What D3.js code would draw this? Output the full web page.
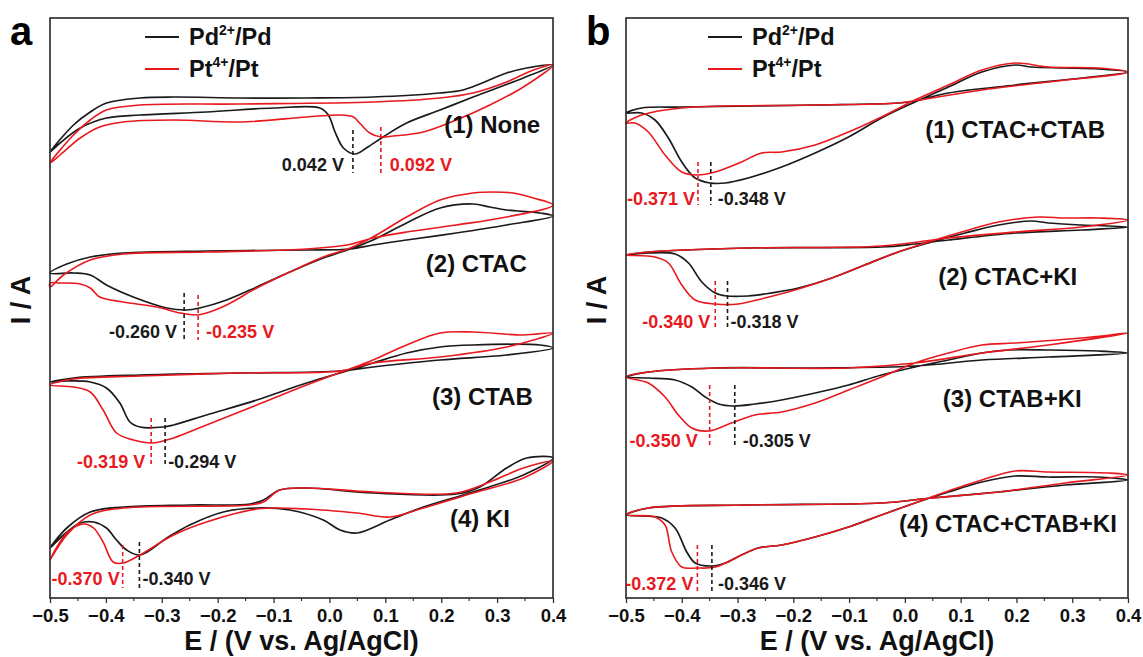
<!DOCTYPE html>
<html><head><meta charset="utf-8">
<script src="https://cdn.jsdelivr.net/npm/d3@7"></script>
<style>
html,body{margin:0;padding:0;background:#fff;}
text{font-family:"Liberation Sans",Arial,Helvetica,sans-serif;font-weight:bold;}
</style></head>
<body><svg id="chart" width="1143" height="657"></svg>
<script>
// ---------- DATA (E in V vs Ag/AgCl, I in arbitrary stacked current units) ----------
const xTicks = [-0.5,-0.4,-0.3,-0.2,-0.1,0.0,0.1,0.2,0.3,0.4];
const seriesNames = ["Pd2+/Pd","Pt4+/Pt"];
const labelsA = ["(1) None","(2) CTAC","(3) CTAB","(4) KI"];
const labelsB = ["(1) CTAC+CTAB","(2) CTAC+KI","(3) CTAB+KI","(4) CTAC+CTAB+KI"];
const peaksA_pd = [0.042,-0.260,-0.294,-0.340];
const peaksA_pt = [0.092,-0.235,-0.319,-0.370];
const peaksB_pd = [-0.348,-0.318,-0.305,-0.346];
const peaksB_pt = [-0.371,-0.340,-0.350,-0.372];

const a1_pd = [[-0.5,446],[-0.458,473],[-0.428,486],[-0.399,495],[-0.339,500],[-0.279,501],[-0.160,500],[-0.041,500],[0.078,501],[0.198,505],[0.239,508],[0.269,514],[0.317,525],[0.353,530],[0.4,533],
 [0.347,520],[0.257,501],[0.198,488],[0.138,475],[0.096,461],[0.066,450],[0.046,444],[0.025,450],[0.010,466],[-0.002,483],[-0.017,490],[-0.1,490],[-0.220,486],[-0.339,483],[-0.399,480],[-0.446,470],[-0.482,455]];
const a1_pt = [[-0.5,435],[-0.458,463],[-0.428,478],[-0.399,488],[-0.339,493],[-0.160,494],[0.078,496],[0.198,500],[0.257,505],[0.317,516],[0.365,528],[0.4,533],
 [0.347,511],[0.287,493],[0.227,478],[0.168,466],[0.114,462],[0.093,461],[0.072,465],[0.054,475],[0.043,481],[0.019,483],[-0.041,481],[-0.160,476],[-0.279,478],[-0.369,476],[-0.411,471],[-0.446,460],[-0.482,443]];
const a2_pd = [[-0.5,325],[-0.470,334],[-0.428,341],[-0.369,345],[-0.220,347],[-0.041,348],[0.037,349],[0.078,353],[0.138,358],[0.227,365],[0.317,373],[0.4,382],
 [0.377,385],[0.317,388],[0.287,391],[0.257,394],[0.198,390],[0.138,375],[0.078,358],[0.037,349],[-0.011,340],[-0.071,326],[-0.130,311],[-0.184,298],[-0.232,290],[-0.256,288],[-0.291,290],[-0.351,301],[-0.399,313],[-0.428,323],[-0.458,325]];
const a2_pt = [[-0.5,311],[-0.476,323],[-0.428,338],[-0.369,344],[-0.220,346],[-0.041,349],[0.031,353],[0.078,360],[0.138,366],[0.227,373],[0.317,381],[0.4,393],
 [0.365,400],[0.329,405],[0.293,406],[0.257,405],[0.198,398],[0.138,381],[0.078,361],[0.037,350],[-0.011,341],[-0.071,326],[-0.130,310],[-0.184,293],[-0.220,285],[-0.238,283],[-0.267,285],[-0.309,291],[-0.369,296],[-0.411,301],[-0.428,310],[-0.446,314],[-0.482,315],[-0.5,315]];
const a3_pd = [[-0.5,216],[-0.458,220],[-0.339,223],[-0.160,225],[0.019,227],[0.078,231],[0.198,238],[0.317,243],[0.4,250],
 [0.377,253],[0.257,253],[0.198,251],[0.138,245],[0.078,235],[0.031,227],[-0.041,215],[-0.130,198],[-0.220,183],[-0.279,173],[-0.297,171],[-0.339,171],[-0.357,176],[-0.375,195],[-0.399,210],[-0.428,216],[-0.470,217]];
const a3_pt = [[-0.5,213],[-0.458,219],[-0.339,222],[-0.160,225],[0.019,227],[0.078,235],[0.198,241],[0.317,251],[0.4,265],
 [0.347,263],[0.257,266],[0.198,265],[0.138,253],[0.078,238],[0.031,228],[-0.041,213],[-0.130,193],[-0.220,173],[-0.279,160],[-0.315,155],[-0.351,158],[-0.381,165],[-0.405,188],[-0.428,206],[-0.458,211]];
const a4_pd = [[-0.5,50],[-0.470,70],[-0.428,86],[-0.369,91],[-0.250,93],[-0.142,94],[-0.118,98],[-0.089,108],[-0.041,110],[0.078,105],[0.227,104],[0.269,111],[0.317,130],[0.353,140],[0.4,140],
 [0.347,123],[0.257,106],[0.168,91],[0.108,78],[0.049,65],[0.019,68],[-0.011,78],[-0.071,88],[-0.130,90],[-0.190,86],[-0.250,73],[-0.291,60],[-0.339,43],[-0.363,48],[-0.381,58],[-0.399,70],[-0.422,76],[-0.446,75],[-0.476,63]];
const a4_pt = [[-0.5,38],[-0.470,63],[-0.428,83],[-0.369,90],[-0.142,93],[-0.118,96],[-0.089,108],[-0.041,110],[0.078,106],[0.227,105],[0.287,116],[0.347,130],[0.4,137],
 [0.347,120],[0.257,105],[0.168,90],[0.108,81],[0.049,85],[-0.041,89],[-0.130,89],[-0.220,76],[-0.279,63],[-0.339,43],[-0.369,35],[-0.387,36],[-0.405,56],[-0.422,70],[-0.440,74],[-0.470,65]];

const b1_pd = [[-0.5,485],[-0.472,490],[-0.400,491],[-0.161,493],[-0.012,495],[0.018,497],[0.078,505],[0.198,513],[0.317,520],[0.4,526],
 [0.347,529],[0.287,530],[0.227,531],[0.198,533],[0.138,526],[0.078,511],[0.018,496],[-0.042,480],[-0.101,461],[-0.161,445],[-0.221,431],[-0.281,420],[-0.322,415],[-0.349,415],[-0.376,420],[-0.400,436],[-0.424,460],[-0.448,478],[-0.472,485]];
const b1_pt = [[-0.5,475],[-0.472,483],[-0.400,490],[-0.161,493],[-0.012,495],[0.048,500],[0.138,508],[0.257,516],[0.4,526],
 [0.347,530],[0.257,531],[0.198,535],[0.138,528],[0.078,513],[0.018,498],[-0.042,481],[-0.101,466],[-0.161,453],[-0.221,446],[-0.257,445],[-0.293,436],[-0.340,426],[-0.373,423],[-0.400,426],[-0.430,443],[-0.460,466],[-0.484,475]];
const b2_pd = [[-0.5,343],[-0.460,346],[-0.281,350],[-0.042,351],[0.018,354],[0.078,358],[0.198,365],[0.317,368],[0.4,371],
 [0.317,373],[0.257,375],[0.227,377],[0.168,373],[0.108,365],[0.048,356],[-0.012,346],[-0.072,333],[-0.131,320],[-0.191,310],[-0.251,304],[-0.281,302],[-0.320,302],[-0.340,305],[-0.364,316],[-0.388,335],[-0.412,344],[-0.460,345]];
const b2_pt = [[-0.5,343],[-0.460,346],[-0.281,350],[-0.042,352],[0.078,360],[0.198,366],[0.317,371],[0.4,378],
 [0.347,380],[0.287,380],[0.239,381],[0.168,376],[0.108,367],[0.048,357],[-0.012,346],[-0.072,333],[-0.131,320],[-0.191,309],[-0.251,300],[-0.299,294],[-0.340,294],[-0.376,298],[-0.400,313],[-0.424,335],[-0.448,341]];
const b3_pd = [[-0.5,221],[-0.460,226],[-0.340,230],[-0.161,230],[0.018,232],[0.138,238],[0.257,241],[0.4,245],
 [0.347,247],[0.257,248],[0.186,248],[0.138,245],[0.078,238],[0.018,231],[-0.042,223],[-0.101,213],[-0.161,205],[-0.221,198],[-0.269,194],[-0.308,192],[-0.334,194],[-0.358,201],[-0.382,211],[-0.412,218],[-0.460,220]];
const b3_pt = [[-0.5,221],[-0.460,226],[-0.340,230],[-0.101,230],[0.018,235],[0.138,245],[0.257,253],[0.4,265],
 [0.317,260],[0.198,255],[0.138,253],[0.078,245],[0.018,235],[-0.042,221],[-0.101,208],[-0.161,195],[-0.221,186],[-0.269,183],[-0.311,175],[-0.352,167],[-0.382,170],[-0.406,183],[-0.430,201],[-0.460,215]];
const b4_pd = [[-0.5,83],[-0.460,90],[-0.281,93],[-0.042,95],[0.048,100],[0.168,106],[0.287,113],[0.4,118],
 [0.347,121],[0.257,121],[0.198,122],[0.138,116],[0.078,106],[0.018,95],[-0.042,83],[-0.101,71],[-0.161,61],[-0.221,53],[-0.263,50],[-0.293,43],[-0.322,35],[-0.346,32],[-0.376,35],[-0.391,46],[-0.412,70],[-0.436,80],[-0.472,82]];
const b4_pt = [[-0.5,83],[-0.460,90],[-0.281,93],[-0.042,95],[0.048,100],[0.168,106],[0.287,115],[0.4,123],
 [0.365,125],[0.257,126],[0.198,127],[0.138,118],[0.078,107],[0.018,95],[-0.042,83],[-0.101,71],[-0.161,61],[-0.221,53],[-0.263,50],[-0.293,43],[-0.340,31],[-0.373,30],[-0.400,31],[-0.418,46],[-0.430,73],[-0.448,81]];

// ---------- LAYOUT (positions / styles) ----------
const COLORS = {pd:"#1a1a1a", pt:"#e8191e"};
const W = 1143, H = 657;
const plotTop = 18, plotBottom = 598;
const panels = [
  {id:"a", left:50, right:553, curves:[[a1_pd,a1_pt],[a2_pd,a2_pt],[a3_pd,a3_pt],[a4_pd,a4_pt]], labels:labelsA,
   pkPd:peaksA_pd, pkPt:peaksA_pt,
   labelPos:[[0.377,465],[0.353,326],[0.364,193],[0.323,71]],
   ann:[{d:[468,425,471,425], base:427, pd:["end",-9], pt:["start",9]},
        {d:[305,258,303,258], base:260, pd:["end",-7], pt:["start",8]},
        {d:[180,131,180,131], base:130, pd:["start",3], pt:["end",-6]},
        {d:[56,10,53,10],     base:13,  pd:["start",3], pt:["end",-3]}],
   letterX:10, legendX:145},
  {id:"b", left:626, right:1128, curves:[[b1_pd,b1_pt],[b2_pd,b2_pt],[b3_pd,b3_pt],[b4_pd,b4_pt]], labels:labelsB,
   pkPd:peaksB_pd, pkPt:peaksB_pt,
   labelPos:[[0.359,460],[0.309,313],[0.317,191],[0.380,66]],
   ann:[{d:[436,393,436,393], base:393, pd:["start",7], pt:["end",-3]},
        {d:[317,268,317,268], base:270, pd:["start",3], pt:["end",-5]},
        {d:[213,150,213,150], base:151, pd:["start",8], pt:["end",-12]},
        {d:[53,6,53,6],       base:8,   pd:["start",6], pt:["end",-4]}],
   letterX:586, legendX:708}
];

const svg = d3.select("#chart");
svg.append("rect").attr("width",W).attr("height",H).attr("fill","#fff");

const fmt = v => (v<0?"\u2212":"") + Math.abs(v).toFixed(1);
const fmtPeak = v => (v<0?"-":"") + Math.abs(v).toFixed(3) + " V";

panels.forEach(p => {
  const x = d3.scaleLinear().domain([-0.5,0.4]).range([p.left,p.right]);
  const y = d3.scaleLinear().domain([0,580]).range([plotBottom,plotTop]);
  const g = svg.append("g");

  const ax = d3.axisBottom(x).tickValues(xTicks).tickFormat(fmt).tickSize(5).tickPadding(6);
  const axg = g.append("g").attr("transform",`translate(0,${plotBottom})`).call(ax);
  axg.select(".domain").remove();
  axg.selectAll("line").attr("stroke","#333").attr("stroke-width",1.3);
  axg.selectAll("text").attr("font-size",18.5).attr("fill","#111").attr("font-family","Liberation Sans, Arial, sans-serif").attr("font-weight","bold");
  const minor = d3.range(-0.45,0.4,0.1);
  g.append("g").selectAll("line").data(minor).join("line")
    .attr("x1",d=>x(d)).attr("x2",d=>x(d)).attr("y1",plotBottom).attr("y2",plotBottom+3)
    .attr("stroke","#333").attr("stroke-width",1.2);

  const line = d3.line().x(d=>x(d[0])).y(d=>y(d[1])).curve(d3.curveCatmullRomClosed.alpha(0.5));
  p.curves.forEach(pair => {
    g.append("path").attr("d",line(pair[0])).attr("fill","none").attr("stroke",COLORS.pd).attr("stroke-width",1.7).attr("stroke-linejoin","round");
    g.append("path").attr("d",line(pair[1])).attr("fill","none").attr("stroke",COLORS.pt).attr("stroke-width",1.6).attr("stroke-linejoin","round");
  });

  g.append("rect").attr("x",p.left).attr("y",plotTop).attr("width",p.right-p.left).attr("height",plotBottom-plotTop)
    .attr("fill","none").attr("stroke","#333").attr("stroke-width",1.7);

  p.ann.forEach((a,i) => {
    const xpd = x(p.pkPd[i]), xpt = x(p.pkPt[i]);
    g.append("line").attr("x1",xpd).attr("x2",xpd).attr("y1",y(a.d[0])).attr("y2",y(a.d[1]))
      .attr("stroke",COLORS.pd).attr("stroke-width",1.6).attr("stroke-dasharray","4,3");
    g.append("line").attr("x1",xpt).attr("x2",xpt).attr("y1",y(a.d[2])).attr("y2",y(a.d[3]))
      .attr("stroke",COLORS.pt).attr("stroke-width",1.6).attr("stroke-dasharray","4,3");
    g.append("text").attr("x",xpd + a.pd[1]).attr("y",y(a.base)).attr("text-anchor",a.pd[0])
      .attr("font-size",18).attr("fill",COLORS.pd).text(fmtPeak(p.pkPd[i]));
    g.append("text").attr("x",xpt + a.pt[1]).attr("y",y(a.base)).attr("text-anchor",a.pt[0])
      .attr("font-size",18).attr("fill",COLORS.pt).text(fmtPeak(p.pkPt[i]));
  });

  p.labels.forEach((t,i) => {
    g.append("text").attr("x",x(p.labelPos[i][0])).attr("y",y(p.labelPos[i][1])).attr("text-anchor","end")
      .attr("font-size",24).attr("fill","#111").text(t);
  });

  const leg = [{c:COLORS.pd, base:"Pd", sup:"2+", tail:"/Pd", y:37},{c:COLORS.pt, base:"Pt", sup:"4+", tail:"/Pt", y:69}];
  leg.forEach(l => {
    g.append("line").attr("x1",p.legendX).attr("x2",p.legendX+34).attr("y1",l.y).attr("y2",l.y)
      .attr("stroke",l.c).attr("stroke-width",1.8);
    const t = g.append("text").attr("x",p.legendX+44).attr("y",l.y+8).attr("font-size",23.5).attr("fill","#111");
    t.append("tspan").text(l.base);
    t.append("tspan").attr("font-size",14).attr("dy",-10).text(l.sup);
    t.append("tspan").attr("dy",10).text(l.tail);
  });

  g.append("text").attr("x",p.letterX).attr("y",45).attr("font-size",40).attr("fill","#000").text(p.id);

  g.append("text").attr("x",(p.left+p.right)/2).attr("y",650).attr("text-anchor","middle")
    .attr("font-size",27).attr("fill","#111").text("E / (V vs. Ag/AgCl)");
  g.append("text").attr("transform",`translate(${p.left-20},300) rotate(-90)`).attr("text-anchor","middle")
    .attr("font-size",27).attr("fill","#111").text("I / A");
});
</script></body></html>
